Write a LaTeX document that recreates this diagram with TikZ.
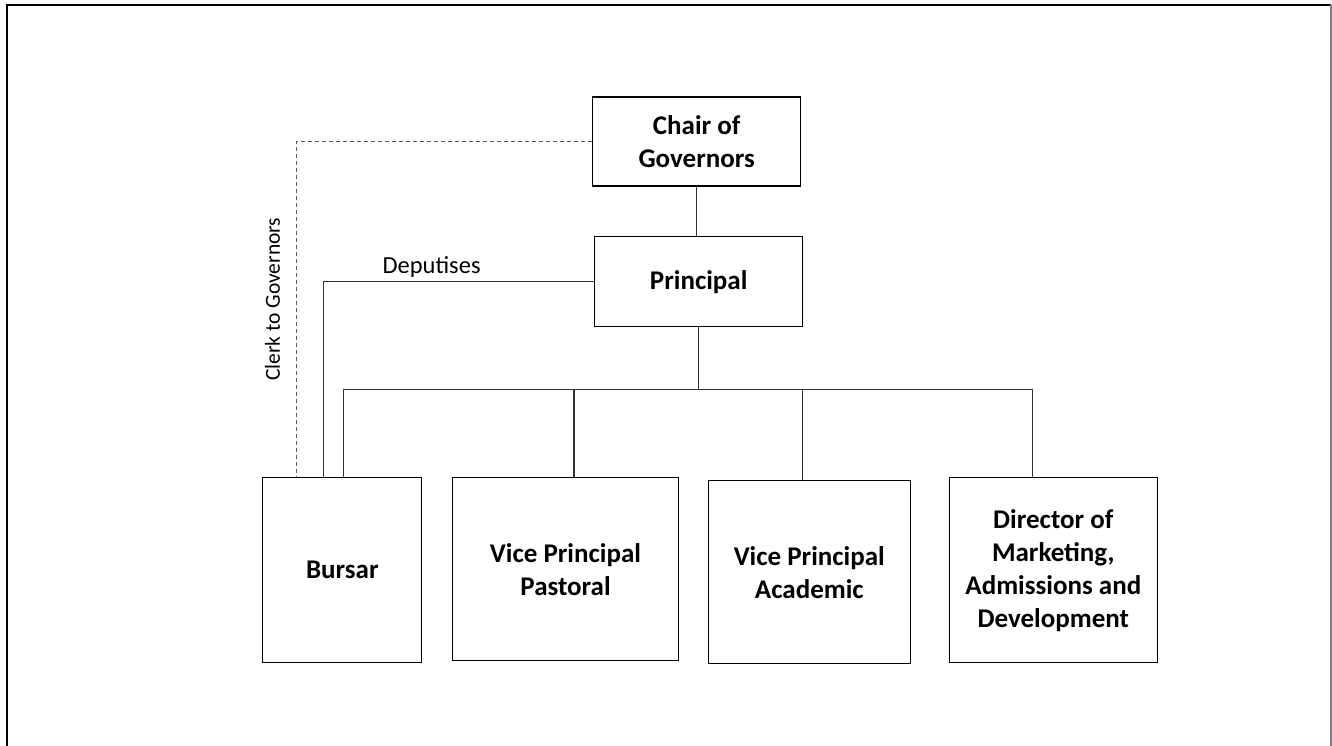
\documentclass[tikz,border=0pt]{standalone}
\usepackage{fontspec}
\setmainfont{Carlito}
\usetikzlibrary{positioning}

\begin{document}
\begin{tikzpicture}[
        x=1pt, y=-1pt,
        % boxes of the staff posts
        post/.style={
            rectangle,
            draw=black,
            line width=1.3pt,
            align=center,
            inner sep=0pt,
            font=\fontsize{27}{33}\selectfont\bfseries
        },
        % reporting lines
        link/.style={
            draw=black!80,
            line width=1.3pt
        },
        clerk/.style={
            draw=gray!70!black,
            line width=1.3pt,
            dash pattern=on 4pt off 3pt
        },
        note/.style={
            font=\fontsize{24.5}{29}\selectfont
        },
        sidenote/.style={
            font=\fontsize{21.5}{26}\selectfont
        }
    ]
    \useasboundingbox (0,0) rectangle (1332,746);

    % --- FRAME ---
    \draw [line width=2pt] (7,760) -- (7,5) -- (1331,5);
    \draw [line width=1.3pt, gray] (1331,5) -- (1331,760);

    % --- TOP ---
    \node [post, minimum width=208pt, minimum height=89pt] (chair) at (696.7,141.5) {Chair of\\Governors};
    \node [post, minimum width=208pt, minimum height=90pt] (principal) at (698.7,281.7) {Principal};

    % --- STAFF ---
    \node [post, minimum width=159pt, minimum height=185pt] (bursar) at (342.3,570.2) {Bursar};
    \node [post, minimum width=226pt, minimum height=183pt] (pastoral) at (565.5,569.3) {Vice Principal\\Pastoral};
    \node [post, minimum width=202pt, minimum height=183pt] (academic) at (809.3,572.3) {Vice Principal\\Academic};
    \node [post, minimum width=208pt, minimum height=185pt] (director) at (1053.3,570.2) {Director of\\Marketing,\\Admissions and\\Development};

    % --- LINES ---
    \coordinate (bus) at ([yshift=-62pt]principal.south);
    \coordinate (bdrop) at ([xshift=1.5pt]bursar.north);
    \coordinate (pdrop) at ([xshift=8.5pt]pastoral.north);
    \coordinate (adrop) at ([xshift=-6.5pt]academic.north);
    \coordinate (ddrop) at ([xshift=-21pt]director.north);
    \coordinate (deputy) at ([xshift=-19pt]bursar.north);
    \coordinate (clerkend) at ([xshift=-45.6pt]bursar.north);

    \draw [link] (chair.south) -- (chair.south |- principal.north);
    \draw [link] (principal.south) -- (bus);
    \draw [link] (bdrop) |- (bus) -| (ddrop);
    \draw [link] (pdrop) -- (pdrop |- bus);
    \draw [link] (adrop) -- (adrop |- bus);

    \draw [link] (principal.west) -- node[note, above, pos=0.6] {Deputises} (principal.west -| deputy) -- (deputy);
    \draw [clerk] (chair.west) -- (chair.west -| clerkend) -- node[sidenote, rotate=90, anchor=south, pos=0.47, inner sep=16pt] {Clerk to Governors} (clerkend);

\end{tikzpicture}
\end{document}
